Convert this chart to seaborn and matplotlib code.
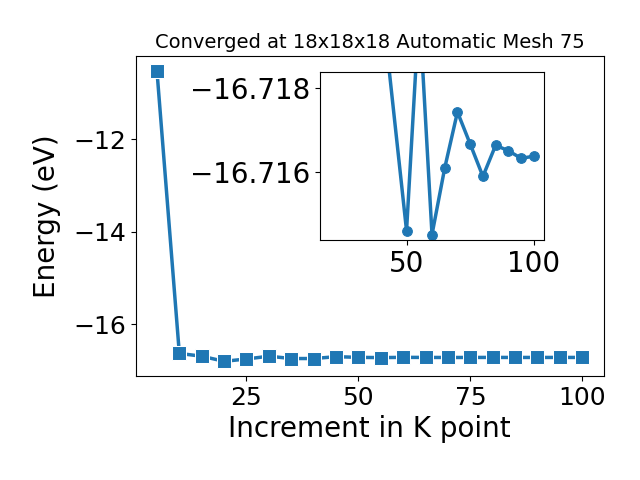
import matplotlib
matplotlib.use("Agg")
import matplotlib.pyplot as plt
import seaborn as sns
import pandas as pd

# Main convergence data
k_points = [5, 10, 15, 20, 25, 30, 35, 40, 45, 50,
            55, 60, 65, 70, 75, 80, 85, 90, 95, 100]
energy = [-10.52, -16.63, -16.69, -16.80, -16.75, -16.69, -16.74, -16.74, -16.70, -16.7146,
          -16.7199, -16.7145, -16.7161, -16.7174, -16.7167, -16.7159, -16.7166, -16.7165, -16.7163, -16.7164]

# Inset (zoomed) data
inset_k = [40, 50, 55, 60, 65, 70, 75, 80, 85, 90, 95, 100]
inset_energy = [-16.7202, -16.71461, -16.7199, -16.71452, -16.71610, -16.71743,
                -16.71667, -16.71590, -16.71664, -16.71651, -16.71633, -16.71638]

title = "Converged at 18x18x18 Automatic Mesh 75"
xlabel = "Increment in K point"
ylabel = "Energy (eV)"
inset_yticks = [-16.718, -16.716]
inset_xticks = [50, 100]

main_df = pd.DataFrame({"k": k_points, "E": energy})
inset_df = pd.DataFrame({"k": inset_k, "E": inset_energy})

color = "#1f77b4"
fig = plt.figure(figsize=(6.4, 4.8), dpi=100)
ax = fig.add_axes([0.212, 0.217, 0.731, 0.666])
sns.lineplot(data=main_df, x="k", y="E", marker="s", markersize=10,
             linewidth=2.5, color=color, ax=ax)
ax.set_title(title, fontsize=14)
ax.set_xlabel(xlabel, fontsize=20)
ax.set_ylabel(ylabel, fontsize=20, labelpad=9)
ax.tick_params(labelsize=18)
ax.set_xticks([25, 50, 75, 100])
ax.set_yticks([-16, -14, -12])

axin = fig.add_axes([0.5, 0.5, 0.35, 0.35])
sns.lineplot(data=inset_df, x="k", y="E", marker="o", markersize=7,
             markeredgecolor=color, linewidth=2.5, color=color, ax=axin)
axin.set_xlim(16, 104)
axin.set_ylim(-16.71439, -16.71838)
axin.set_xticks(inset_xticks)
axin.set_yticks(inset_yticks)
axin.set_yticklabels(["\u221216.718", "\u221216.716"])
axin.tick_params(labelsize=20)
axin.set_xlabel("")
axin.set_ylabel("")

fig.savefig("out.png", dpi=100)
